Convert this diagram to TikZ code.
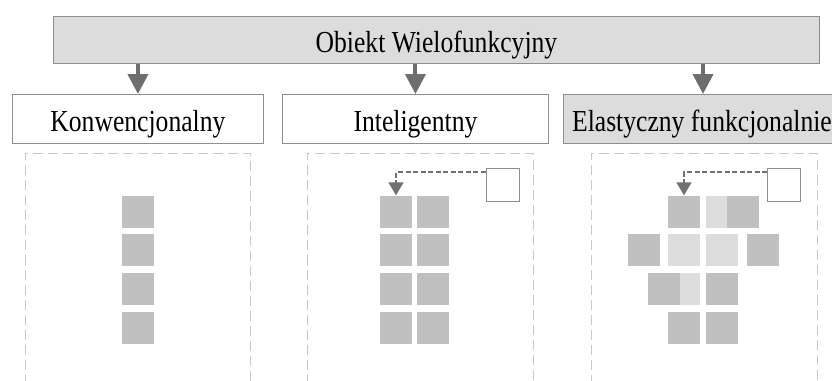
\documentclass[tikz,border=0pt]{standalone}
\usepackage{fontspec}
\setmainfont{Liberation Serif}[FakeStretch=0.84]
\usetikzlibrary{arrows.meta}
\definecolor{topfill}{HTML}{DCDCDC}
\definecolor{boxline}{HTML}{8E8E8E}
\definecolor{arrgray}{HTML}{6E6E6E}
\definecolor{panelline}{HTML}{C8C8C8}
\definecolor{sqdark}{HTML}{C0C0C0}
\definecolor{sqlight}{HTML}{DDDDDD}
\definecolor{dashgray}{HTML}{707070}
\tikzset{
  labelbox/.style={draw=boxline, line width=0.9pt, inner sep=0pt, anchor=north west,
    font=\fontsize{30.5}{32}\selectfont, text height=26pt, text depth=0pt},
  bigarrow/.style={draw=arrgray, line width=4pt, -{Triangle[width=20pt,length=20pt,fill=arrgray]}},
  panel/.style={draw=panelline, line width=1pt, dash pattern=on 10pt off 5pt},
  sqd/.style={fill=sqdark, minimum size=32pt, inner sep=0pt},
  sql/.style={fill=sqlight, minimum size=32pt, inner sep=0pt},
  whitesq/.style={draw=boxline, fill=white, line width=0.8pt, minimum size=33pt, inner sep=0pt},
  dasharrow/.style={draw=dashgray, line width=1.8pt, dash pattern=on 5pt off 2.5pt,
    -{Triangle[width=15pt,length=13pt,fill=dashgray]}},
}
\begin{document}
\begin{tikzpicture}[x=1pt,y=-1pt]
\useasboundingbox (0,0) rectangle (832,380);
\clip (0,0) rectangle (832,380);
% top box
\node[labelbox, fill=topfill, minimum width=766pt, minimum height=47pt, text height=25pt] (top) at (53,16) {Obiekt Wielofunkcyjny};
% label boxes
\node[labelbox, fill=white, minimum width=251pt, minimum height=49pt] (kon) at (12,94) {Konwencjonalny};
\node[labelbox, fill=white, minimum width=266pt, minimum height=49pt] (int) at (282,94) {Inteligentny};
\node[labelbox, fill=topfill, minimum width=277pt, minimum height=49pt] (ela) at (563,94) {Elastyczny funkcjonalnie};
% arrows
\draw[bigarrow] (top.south -| kon.north) -- (kon.north);
\draw[bigarrow] (top.south -| int.north) -- (int.north);
\coordinate (ea) at (703,94);
\draw[bigarrow] (top.south -| ea) -- (ea);
% panels
\draw[panel] (25,400) -- (25,153) -- (250,153) -- (250,400);
\draw[panel] (307,400) -- (307,153) -- (533,153) -- (533,400);
\draw[panel] (591,400) -- (591,153) -- (817,153) -- (817,400);
% left panel squares
\node[sqd] (k1) at (137.5,211.5) {};
\node[sqd] (k2) at (137.5,250.3) {};
\node[sqd] (k3) at (137.5,289.1) {};
\node[sqd] (k4) at (137.5,327.5) {};
% middle panel squares
\foreach \r/\y in {1/211.5,2/250.3,3/289.1,4/327.5}{
  \node[sqd] (ma\r) at (396,\y) {};
  \node[sqd] (mb\r) at (433,\y) {};
}
\node[whitesq] (ws1) at (502.5,185) {};
\draw[dasharrow] ([yshift=-4pt]ws1.north west) -| (ma1.north);
% right panel squares
\node[sql] (l1) at (722,211.5) {};
\node[sqd] (r1a) at (684,211.5) {};
\node[sqd] (r1b) at (742.5,211.5) {};
\node[sqd] (r2a) at (643.5,250.3) {};
\node[sql] (l2) at (684,250.3) {};
\node[sql] (l3) at (722,250.3) {};
\node[sqd] (r2b) at (763,250.3) {};
\node[sql] (l4) at (684,289.1) {};
\node[sqd] (r3a) at (664,289.1) {};
\node[sqd] (r3b) at (722,289.1) {};
\node[sqd] (r4a) at (684,327.5) {};
\node[sqd] (r4b) at (722,327.5) {};
\node[whitesq] (ws2) at (784,185) {};
\draw[dasharrow] ([yshift=-4pt]ws2.north west) -| (r1a.north);
\end{tikzpicture}
\end{document}
